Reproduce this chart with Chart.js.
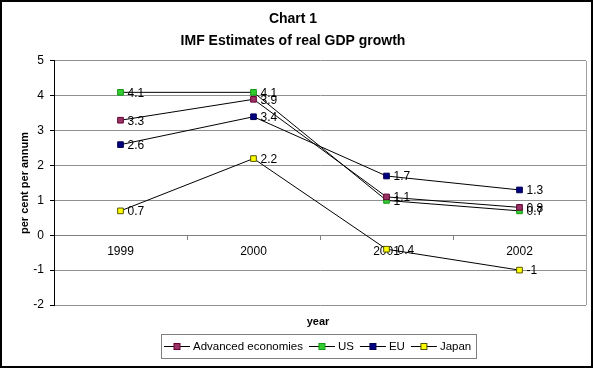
<!DOCTYPE html>
<html>
<head>
<meta charset="utf-8">
<title>Chart 1</title>
<script src="https://cdn.jsdelivr.net/npm/chart.js@4"></script>
<style>
  html, body { margin: 0; padding: 0; background: #fff; }
  #wrap { width: 593px; height: 368px; position: relative; }
</style>
</head>
<body>
<div id="wrap"><canvas id="chart" width="593" height="368"></canvas></div>
<script>
const years = ["1999", "2000", "2001", "2002"];
const advanced = [3.3, 3.9, 1.1, 0.8];
const us = [4.1, 4.1, 1.0, 0.7];
const eu = [2.6, 3.4, 1.7, 1.3];
const japan = [0.7, 2.2, -0.4, -1];

const seriesNames = ["Advanced economies", "US", "EU", "Japan"];
const seriesColors = ["#993366", "#33cc33", "#000080", "#ffff00"];
const markerBorders = ["#660033", "#119911", "#000050", "#555500"];

const FONT = "'Liberation Sans', Arial, sans-serif";

const makeDataset = (i, values) => ({
  label: seriesNames[i],
  data: values,
  borderColor: "#000",
  borderWidth: 1,
  pointStyle: "rect",
  pointRadius: 4,
  pointBackgroundColor: seriesColors[i],
  pointBorderColor: markerBorders[i],
  pointBorderWidth: 1,
  tension: 0,
  fill: false,
});

// white page, black frame, axis title "year" and the boxed legend
const framePlugin = {
  id: "frame",
  beforeDraw(chart) {
    const { ctx, width, height } = chart;
    ctx.save();
    ctx.fillStyle = "#fff";
    ctx.fillRect(0, 0, width, height);
    ctx.restore();
  },
  beforeDatasetsDraw(chart) {
    const { ctx, chartArea } = chart;
    ctx.save();
    ctx.strokeStyle = "#a0a0a0";
    ctx.lineWidth = 1;
    ctx.beginPath();
    ctx.moveTo(chartArea.right + 0.5, chartArea.top);
    ctx.lineTo(chartArea.right + 0.5, chartArea.bottom);
    ctx.stroke();
    ctx.restore();
  },
  afterDatasetsDraw(chart) {
    // value labels next to each marker
    const { ctx } = chart;
    ctx.save();
    ctx.font = "12px " + FONT;
    ctx.fillStyle = "#000";
    ctx.textAlign = "left";
    ctx.textBaseline = "middle";
    chart.data.datasets.forEach((ds, i) => {
      const meta = chart.getDatasetMeta(i);
      meta.data.forEach((pt, j) => {
        ctx.fillText(String(ds.data[j]), pt.x + 7, pt.y + 1);
      });
    });
    ctx.restore();
  },
  afterDraw(chart) {
    const { ctx, width, height } = chart;
    ctx.save();

    // x axis title
    ctx.font = "bold 11px " + FONT;
    ctx.fillStyle = "#000";
    ctx.textAlign = "center";
    ctx.textBaseline = "middle";
    ctx.fillText("year", 318, 322);

    // legend
    ctx.font = "11.5px " + FONT;
    const pad = 3, lineLen = 26, gapText = 3, gapItem = 6;
    const widths = seriesNames.map((n) => lineLen + gapText + ctx.measureText(n).width);
    const total = widths.reduce((a, b) => a + b, 0) + gapItem * (widths.length - 1) + pad * 2 + 2;
    const boxLeft = Math.round(318.5 - total / 2);
    const boxTop = 334, boxH = 24;
    ctx.strokeStyle = "#808080";
    ctx.lineWidth = 1;
    ctx.strokeRect(boxLeft + 0.5, boxTop + 0.5, Math.round(total), boxH);
    const cy = boxTop + boxH / 2 + 0.5;
    let x = boxLeft + pad;
    seriesNames.forEach((n, i) => {
      ctx.strokeStyle = "#000";
      ctx.beginPath();
      ctx.moveTo(x, Math.floor(cy) + 0.5);
      ctx.lineTo(x + lineLen, Math.floor(cy) + 0.5);
      ctx.stroke();
      ctx.fillStyle = seriesColors[i];
      ctx.fillRect(x + lineLen / 2 - 3, Math.floor(cy) - 2.5, 6, 6);
      ctx.strokeStyle = markerBorders[i];
      ctx.strokeRect(x + lineLen / 2 - 3, Math.floor(cy) - 2.5, 6, 6);
      ctx.fillStyle = "#000";
      ctx.textAlign = "left";
      ctx.fillText(n, x + lineLen + gapText, cy);
      x += widths[i] + gapItem;
    });

    // outer frame
    ctx.strokeStyle = "#000";
    ctx.lineWidth = 2;
    ctx.strokeRect(1, 1, width - 2, height - 2);
    ctx.restore();
  },
};

new Chart(document.getElementById("chart"), {
  type: "line",
  data: {
    labels: years,
    datasets: [
      makeDataset(0, advanced),
      makeDataset(1, us),
      makeDataset(2, eu),
      makeDataset(3, japan),
    ],
  },
  options: {
    responsive: false,
    animation: false,
    devicePixelRatio: 1,
    layout: { padding: { left: 0, right: 7, top: 0, bottom: 63 } },
    plugins: {
      legend: { display: false },
      tooltip: { enabled: false },
      title: {
        display: true,
        text: ["Chart 1", "IMF Estimates of real GDP growth"],
        color: "#000",
        font: { family: FONT, size: 14, weight: "bold", lineHeight: 1.57 },
        padding: { top: 8, bottom: 9 },
      },
    },
    scales: {
      x: {
        position: { y: 0 },
        offset: true,
        grid: {
          offset: true,
          drawOnChartArea: false,
          drawTicks: true,
          tickLength: 4,
          color: "#808080",
        },
        border: { display: true, color: "#808080" },
        ticks: {
          color: "#000",
          font: { family: FONT, size: 12 },
          padding: 5,
          maxRotation: 0,
        },
      },
      y: {
        min: -2,
        max: 5,
        ticks: {
          stepSize: 1,
          color: "#000",
          font: { family: FONT, size: 12 },
          padding: 6,
        },
        grid: { color: "#909090", tickLength: 4, tickColor: "#000" },
        border: { display: true, color: "#000" },
        title: {
          display: true,
          text: "per cent per annum",
          color: "#000",
          font: { family: FONT, size: 11, weight: "bold" },
          padding: { top: 18, bottom: 0 },
        },
        afterFit(scale) {
          scale.width = 54;
        },
      },
    },
  },
  plugins: [framePlugin],
});
</script>
</body>
</html>
